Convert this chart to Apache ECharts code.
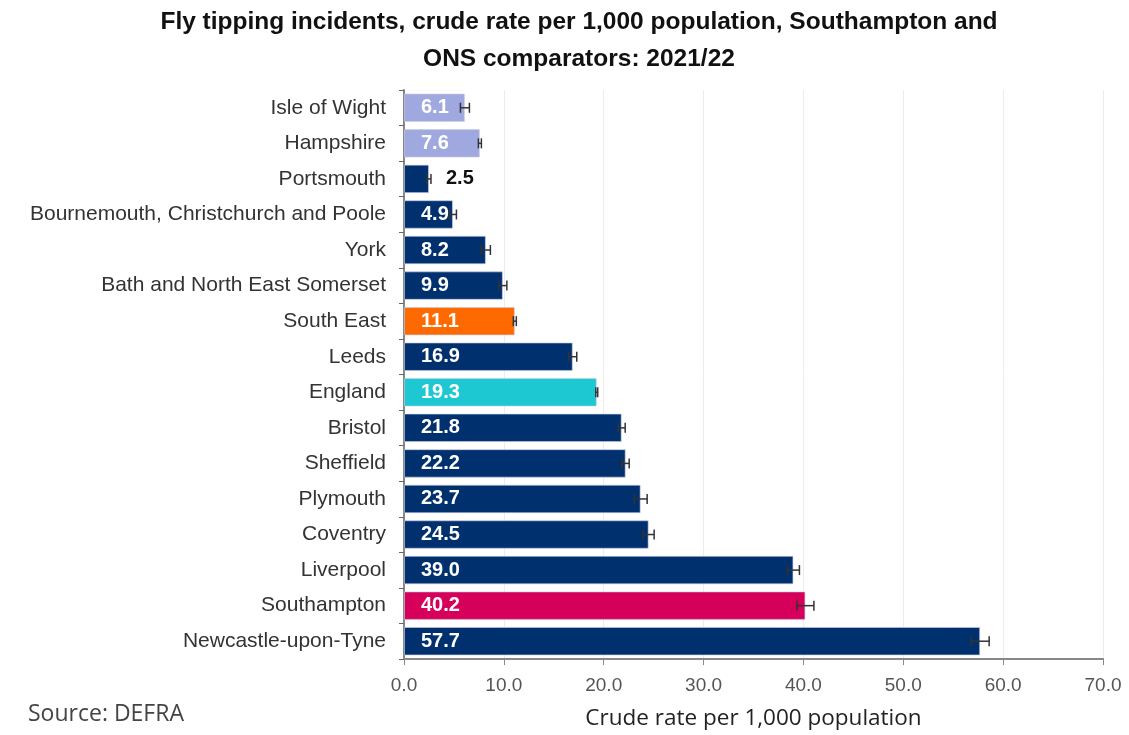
<!DOCTYPE html>
<html>
<head>
<meta charset="utf-8">
<script src="https://cdn.jsdelivr.net/npm/echarts@6/dist/echarts.min.js"></script>
<style>html,body{margin:0;padding:0;background:#fff}#c{width:1129px;height:735px}</style>
</head>
<body>
<div id="c"></div>
<script>
const categories = ['Isle of Wight','Hampshire','Portsmouth','Bournemouth, Christchurch and Poole','York','Bath and North East Somerset','South East','Leeds','England','Bristol','Sheffield','Plymouth','Coventry','Liverpool','Southampton','Newcastle-upon-Tyne'];
const values = [6.1,7.6,2.5,4.9,8.2,9.9,11.1,16.9,19.3,21.8,22.2,23.7,24.5,39.0,40.2,57.7];
const errHalf = [0.45,0.15,0.2,0.35,0.45,0.4,0.15,0.4,0.1,0.35,0.35,0.65,0.55,0.6,0.85,0.9];
const xTicks = [0,10,20,30,40,50,60,70];

const NAVY = '#00306e';
const colorFor = {
  'Isle of Wight': '#9fa8df',
  'Hampshire': '#9fa8df',
  'South East': '#ff6a00',
  'England': '#1ec8d2',
  'Southampton': '#d6005a'
};

const chart = echarts.init(document.getElementById('c'));
const barData = values.map((v, i) => {
  const name = categories[i];
  const item = { value: v, itemStyle: { color: colorFor[name] || NAVY } };
  if (name === 'Portsmouth') {
    item.label = { position: 'right', distance: 17, color: '#111' };
  }
  return item;
});
const errData = values.map((v, i) => [i, v - errHalf[i], v + errHalf[i]]);

chart.setOption({
  animation: false,
  title: {
    text: 'Fly tipping incidents, crude rate per 1,000 population, Southampton and\nONS comparators: 2021/22',
    left: 574, top: -1, textAlign: 'center',
    textStyle: { fontFamily: 'Liberation Sans', fontWeight: 'bold', fontSize: 24.5, lineHeight: 37, color: '#111' }
  },
  graphic: [{
    type: 'text', left: 28, top: 703,
    style: { text: 'Source: DEFRA', fontFamily: 'Open Sans', fontSize: 23, fill: '#444' }
  }],
  grid: { left: 404, right: 26, top: 90, bottom: 76 },
  xAxis: {
    type: 'value', min: 0, max: 70, interval: 10,
    name: 'Crude rate per 1,000 population', nameLocation: 'middle', nameGap: 48,
    nameTextStyle: { fontFamily: 'Open Sans', fontSize: 22.5, color: '#222' },
    axisLine: { show: true, lineStyle: { color: '#888', width: 2 } },
    axisTick: { show: true, length: 6, lineStyle: { color: '#888' } },
    axisLabel: { formatter: v => v.toFixed(1), fontFamily: 'Liberation Sans', fontSize: 19, color: '#555', margin: 17 },
    splitLine: { show: true, lineStyle: { color: '#ececec' } }
  },
  yAxis: {
    type: 'category', data: categories, inverse: true,
    axisLine: { show: true, lineStyle: { color: '#888', width: 2 } },
    axisTick: { show: true, length: 5, inside: false, lineStyle: { color: '#666' } },
    axisLabel: { fontFamily: 'Liberation Sans', fontSize: 21, color: '#333', margin: 18 }
  },
  series: [{
    type: 'bar', data: barData, barCategoryGap: '20%',
    itemStyle: { borderColor: 'rgba(200,205,230,0.6)', borderWidth: 1 },
    label: {
      show: true, position: 'insideLeft', distance: 17,
      formatter: p => p.value.toFixed(1),
      fontFamily: 'Liberation Sans', fontWeight: 'bold', fontSize: 20, color: '#fff'
    },
    z: 2
  }, {
    type: 'custom', data: errData, z: 3,
    renderItem: (params, api) => {
      const i = api.value(0);
      const lo = api.coord([api.value(1), i]);
      const hi = api.coord([api.value(2), i]);
      const h = 5;
      const st = { stroke: '#333', lineWidth: 1.5 };
      return { type: 'group', children: [
        { type: 'line', shape: { x1: lo[0], y1: lo[1], x2: hi[0], y2: hi[1] }, style: st },
        { type: 'line', shape: { x1: lo[0], y1: lo[1] - h, x2: lo[0], y2: lo[1] + h }, style: st },
        { type: 'line', shape: { x1: hi[0], y1: hi[1] - h, x2: hi[0], y2: hi[1] + h }, style: st }
      ]};
    },
    encode: { x: [1, 2], y: 0 }
  }]
});
</script>
</body>
</html>
